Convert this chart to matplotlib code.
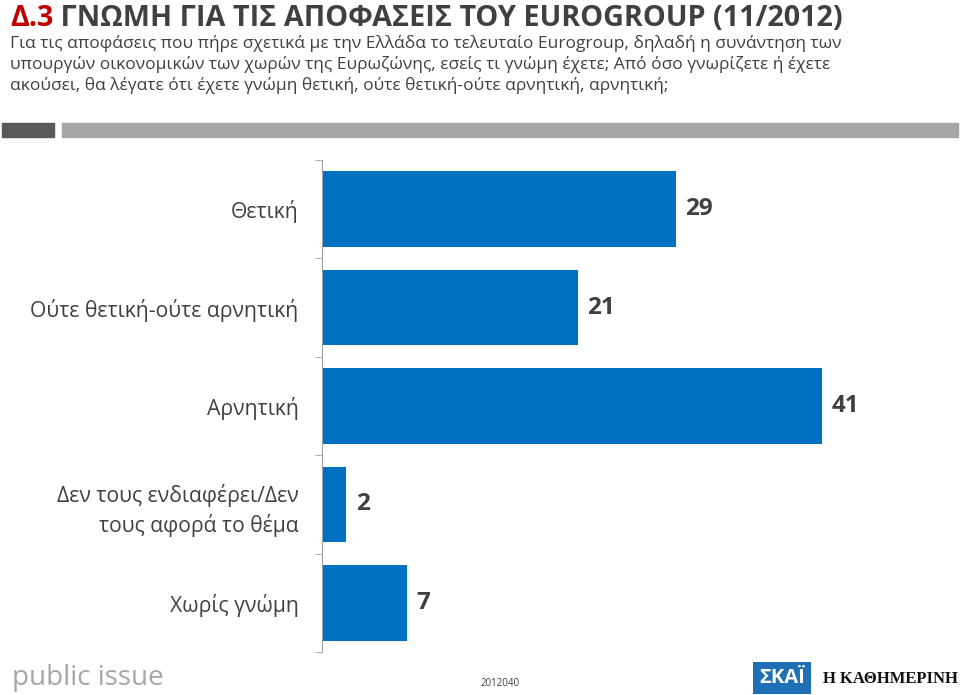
import matplotlib.pyplot as plt
from matplotlib.patches import Rectangle
import numpy as np

# data
categories = ["Θετική", "Ούτε θετική-ούτε αρνητική", "Αρνητική",
              "Δεν τους ενδιαφέρει/Δεν\nτους αφορά το θέμα", "Χωρίς γνώμη"]
values = [29, 21, 41, 2, 7]

title_num = "Δ.3"
title_rest = " ΓΝΩΜΗ ΓΙΑ ΤΙΣ ΑΠΟΦΑΣΕΙΣ ΤΟΥ EUROGROUP (11/2012)"
subtitle = ("Για τις αποφάσεις που πήρε σχετικά με την Ελλάδα το τελευταίο Eurogroup, δηλαδή η συνάντηση των\n"
            "υπουργών οικονομικών των χωρών της Ευρωζώνης, εσείς τι γνώμη έχετε; Από όσο γνωρίζετε ή έχετε\n"
            "ακούσει, θα λέγατε ότι έχετε γνώμη θετική, ούτε θετική-ούτε αρνητική, αρνητική;")

plt.rcParams['font.family'] = ['Open Sans', 'DejaVu Sans']
blue = "#0070C0"
dark = "#404040"

fig = plt.figure(figsize=(9.6, 6.95), dpi=100)
W, H = 960, 695

def fx(px):
    return px / W

def fy(py):
    return 1 - py / H

# title
t = fig.text(fx(10), fy(18), title_num, color="#C00000", fontsize=20.7,
             fontweight="bold", va="center", ha="left")
fig.canvas.draw()
bb = t.get_window_extent()
fig.text(bb.x1 / W, fy(18), title_rest, color=dark, fontsize=20.7,
         fontweight="bold", va="center", ha="left")
fig.text(fx(10), fy(35), subtitle, color=dark, fontsize=12.5, va="top",
         ha="left", linespacing=1.3)

# grey separator bars
fig.patches.append(Rectangle((fx(2), fy(137)), fx(52), 14 / H, color="#595959",
                             transform=fig.transFigure))
fig.patches.append(Rectangle((fx(62), fy(137)), fx(896), 14 / H, color="#A6A6A6",
                             transform=fig.transFigure))

# chart
ax = fig.add_axes([fx(322), fy(652), fx(610), (652 - 160) / H])
y = np.arange(len(categories))
ax.barh(y, values, height=0.77, color=blue)
ax.set_xlim(0, 50)
ax.set_ylim(len(categories) - 0.5, -0.5)
for s in ["top", "right", "bottom"]:
    ax.spines[s].set_visible(False)
ax.spines["left"].set_color("#A0A0A0")
ax.set_xticks([])
ax.set_yticks(y)
ax.set_yticklabels(categories, fontsize=15.2, color=dark, linespacing=1.4)
ax.tick_params(axis="y", which="major", length=0, pad=17)
ax.set_yticks(np.arange(len(categories) + 1) - 0.5, minor=True)
ax.tick_params(axis="y", which="minor", length=5, color="#A0A0A0")

for yi, v in zip(y, values):
    ax.text(v + 0.75, yi, str(v), va="center", ha="left", fontsize=17.5,
            fontweight="bold", color=dark)

# footer
fig.text(fx(12), fy(678), "public issue", color="#A6A6A6", fontsize=20,
         va="center", ha="left")
fig.text(fx(500), fy(684), "2012040", color=dark, fontsize=7,
         va="center", ha="center")
fig.text(fx(782), fy(678), "ΣΚΑΪ", color="white", fontsize=14.5, fontweight="bold",
         va="center", ha="center",
         bbox=dict(boxstyle="square,pad=0.3", fc="#1F6FB5", ec="none"))
fig.text(fx(958), fy(679), "Η ΚΑΘΗΜΕΡΙΝΗ", color="#111111", fontsize=12,
         va="center", ha="right", fontweight="bold",
         family=["Liberation Serif", "DejaVu Serif"])

fig.savefig("out.png", dpi=100)
